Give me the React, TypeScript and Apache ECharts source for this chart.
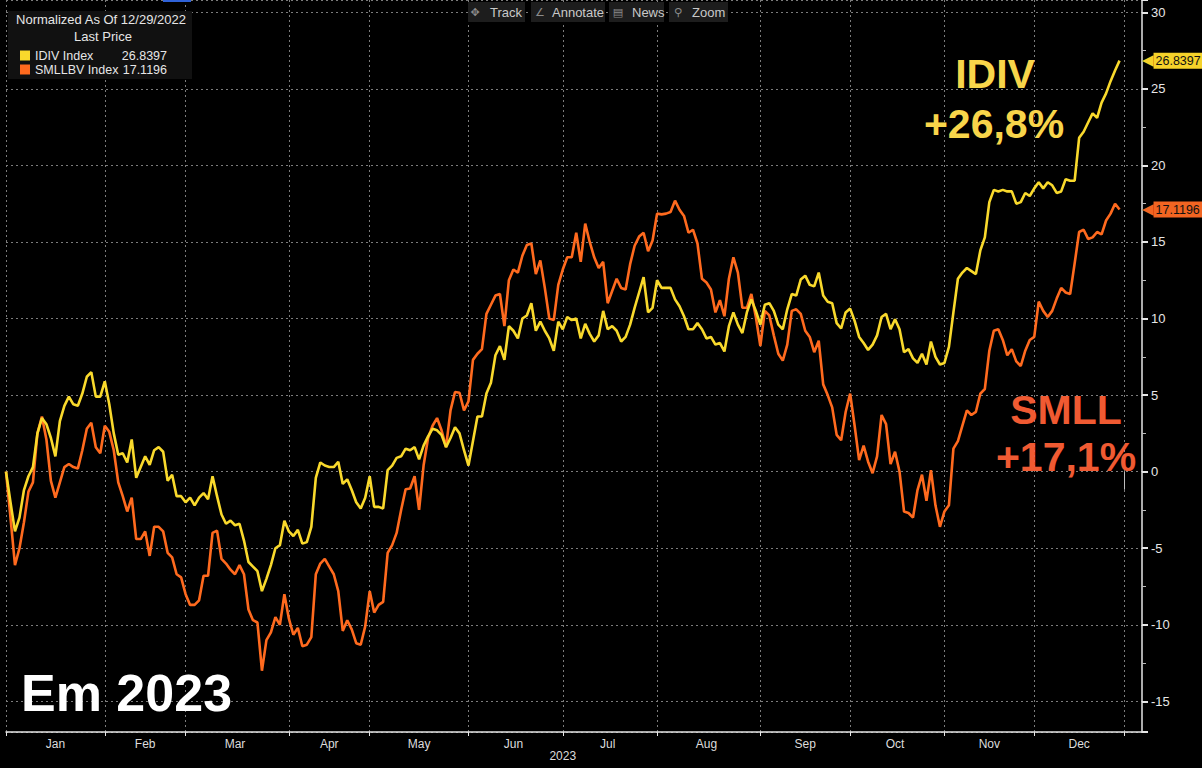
import React, { useEffect, useRef } from 'react';
import * as echarts from 'echarts';

// ---- data ----
const monthNames = ['Jan', 'Feb', 'Mar', 'Apr', 'May', 'Jun', 'Jul', 'Aug', 'Sep', 'Oct', 'Nov', 'Dec'];
// trading-day index where each month starts (last entry = end of December)
const monthStarts = [0, 22, 40, 63, 81, 103, 124, 145, 168, 188, 209, 229, 249];
const axisLastIndex = 253;
const yearLabel = '2023';

const seriesNames = ['IDIV Index', 'SMLLBV Index'];
const headerLines = ['Normalized As Of 12/29/2022', 'Last Price'];
const toolbarItems = ['Track', 'Annotate', 'News', 'Zoom'];
const toolbarIcons = ['\u2725', '\u2220', '\u25A4', '\u26B2'];
const idivNote = ['IDIV', '+26,8%'];
const smllNote = ['SMLL', '+17,1%'];
const cornerNote = 'Em 2023';

const idivValues = [
  0, -2.0, -3.9, -3.0, -1.2, -0.3, 0.3, 2.5, 3.5, 3.1,
  2.2, 1.0, 3.3, 4.3, 4.9, 4.4, 4.3, 5.1, 6.2, 6.5,
  4.9, 4.9, 5.9, 4.4, 2.5, 1.1, 1.2, 0.6, 2.1, -0.4,
  0.3, 1.0, 0.45, 1.4, 1.6, 1.3, -0.6, -0.2, -1.6, -1.6,
  -2.0, -1.7, -2.2, -1.7, -1.4, -1.8, -0.3, -1.6, -2.8, -3.4,
  -3.2, -3.5, -3.4, -4.5, -5.9, -6.2, -6.5, -7.8, -7.0, -6.1,
  -5.0, -4.8, -3.2, -3.9, -4.2, -3.8, -4.7, -4.6, -3.6, -0.4,
  0.6, 0.4, 0.3, 0.3, 0.65, -0.8, -0.5, -1.2, -2.0, -2.4,
  -1.7, -0.3, -2.3, -2.3, -2.4, 0.1, 0.4, 0.9, 1.0, 1.5,
  1.4, 1.6, 0.8, 1.7, 2.3, 2.8, 2.7, 2.4, 1.6, 2.2,
  2.9, 2.5, 1.4, 0.4, 2.0, 3.6, 3.6, 5.1, 5.8, 7.6,
  8.2, 7.3, 9.5, 9.2, 8.7, 10.0, 10.2, 11.0, 9.2, 9.8,
  9.2, 8.7, 7.9, 9.8, 9.3, 10.1, 9.9, 10.0, 8.7, 9.65,
  9.0, 8.5, 8.9, 10.5, 9.3, 9.5, 9.2, 8.5, 8.8, 9.6,
  10.7, 11.7, 12.7, 10.4, 10.7, 12.5, 12.0, 12.0, 12.0, 11.25,
  10.8, 10.15, 9.3, 9.3, 9.7, 9.3, 8.7, 8.8, 8.3, 8.4,
  7.85, 9.5, 10.4, 9.6, 9.05, 10.4, 11.25, 10.5, 9.6, 10.9,
  11.0, 10.5, 9.6, 9.3, 10.6, 11.6, 11.5, 12.55, 12.8, 12.2,
  12.1, 13.0, 11.5, 11.1, 11.0, 9.7, 9.35, 10.4, 10.65, 9.85,
  8.8, 8.4, 7.95, 8.3, 8.9, 10.1, 10.3, 9.3, 9.95, 9.3,
  7.8, 8.0, 7.4, 7.1, 7.7, 7.0, 8.5, 7.5, 7.0, 7.1,
  8.15, 10.4, 12.6, 13.0, 13.3, 13.1, 12.9, 14.45, 15.3, 17.6,
  18.4, 18.3, 18.4, 18.3, 18.3, 17.5, 17.6, 18.2, 18.0, 18.5,
  18.9, 18.5, 18.9, 18.7, 18.2, 18.3, 19.1, 19.0, 19.0, 21.8,
  22.2, 22.8, 23.4, 23.1, 24.1, 24.7, 25.5, 26.2, 26.8397,
];

const smllValues = [
  0, -3.0, -6.1, -5.0, -3.3, -1.3, -0.7, 2.5, 3.6, 2.1,
  -0.6, -1.7, -0.7, 0.3, 0.5, 0.3, 0.2, 1.4, 2.8, 3.2,
  1.6, 1.2, 3.0, 2.6, 1.4, -0.7, -1.6, -2.6, -1.7, -4.4,
  -4.4, -3.9, -5.5, -3.6, -3.6, -3.9, -5.3, -5.6, -6.7, -6.9,
  -8.0, -8.7, -8.7, -8.4, -6.8, -6.8, -4.0, -3.85, -5.7, -6.0,
  -6.4, -6.7, -6.1, -6.7, -9.0, -9.7, -9.85, -13.0, -11.0, -10.5,
  -9.5, -10.0, -8.0, -9.6, -10.65, -10.2, -11.4, -11.3, -10.8, -6.7,
  -6.0, -5.7, -6.2, -6.7, -7.8, -10.4, -9.7, -10.3, -11.2, -11.3,
  -10.1, -7.8, -9.2, -8.7, -8.5, -5.3, -4.8, -4.0, -2.5, -1.15,
  -1.1, -0.3, -2.5, 0.4, 2.2, 3.0, 3.5, 2.7, 1.6, 4.0,
  5.2, 5.15, 4.0, 4.6, 7.3, 7.7, 8.0, 10.3, 10.9, 11.5,
  11.6, 9.5, 12.5, 13.2, 13.0, 14.1, 14.8, 14.9, 12.9, 13.8,
  12.0, 10.0, 9.9, 12.2, 13.2, 14.0, 14.0, 15.6, 13.7, 16.2,
  15.0, 14.0, 13.3, 13.7, 11.0, 11.8, 12.6, 12.0, 11.9, 13.55,
  14.75, 15.35, 15.6, 14.4, 15.1, 16.85, 16.8, 16.85, 16.95, 17.7,
  17.1, 16.7, 15.6, 15.8, 14.9, 12.6, 12.35, 11.9, 10.4, 11.2,
  10.15, 12.6, 14.0, 13.0, 10.7, 10.7, 11.6, 10.1, 8.2, 10.5,
  10.2, 8.9, 7.7, 7.25, 8.3, 10.5, 10.6, 10.3, 9.2, 8.8,
  7.8, 8.55, 5.7, 5.0, 4.2, 2.4, 2.05, 3.9, 5.1, 3.0,
  0.75, 1.7, 0.65, -0.1, 1.0, 3.7, 3.1, 0.5, 1.3, 0.0,
  -2.6, -2.7, -3.0, -1.2, -0.2, -1.9, 0.1, -2.2, -3.6, -2.6,
  -2.2, 1.5, 2.0, 3.0, 4.0, 3.7, 3.9, 5.1, 5.4, 7.9,
  9.2, 9.3, 8.6, 7.6, 8.0, 7.2, 6.9, 7.9, 8.6, 8.8,
  11.1, 10.5, 10.1, 10.5, 11.3, 12.0, 11.7, 11.6, 13.6, 15.65,
  15.8, 15.2, 15.3, 15.65, 15.5, 16.4, 16.85, 17.5, 17.1196,
];

const IDIV_COLOR = '#F9D92C';
const SMLL_COLOR = '#FF6A1E';
const IDIV_TEXT = '#F8D54A';
const SMLL_TEXT = '#F05A32';
const GRID_COLOR = '#7c7c7c';
const AXIS_COLOR = '#e6e6e6';
const FONT = "'Liberation Sans', Arial, sans-serif";

function buildOption() {
  const categories = Array.from({ length: axisLastIndex + 1 }, (_, i) => String(i));
  const labelMap: Record<number, string> = {};
  for (let m = 0; m < monthNames.length; m++) {
    labelMap[Math.floor((monthStarts[m] + monthStarts[m + 1]) / 2)] = monthNames[m];
  }
  const yearIdx = monthStarts[6];
  const yearEnd = monthStarts[monthStarts.length - 1];
  const isBoundary = (i: number) => monthStarts.indexOf(i) >= 0;

  const idivLast = idivValues[idivValues.length - 1];
  const smllLast = smllValues[smllValues.length - 1];
  const lastOf: Record<string, string> = {
    [seriesNames[0]]: idivLast.toFixed(4),
    [seriesNames[1]]: smllLast.toFixed(4),
  };

  const tag = (value: number, color: string) => ({
    silent: true,
    symbol: ['none', 'none'],
    lineStyle: { color: 'rgba(0,0,0,0)', width: 0, type: 'solid' },
    emphasis: { disabled: true },
    data: [{ yAxis: value }],
    label: {
      show: true,
      position: 'end',
      distance: 0,
      formatter: '{a|\u25C0}{b|' + value.toFixed(4) + '}',
      rich: {
        a: { color, fontSize: 15, fontFamily: 'DejaVu Sans', padding: [0, 0, 1, 0] },
        b: {
          color: '#111',
          backgroundColor: color,
          fontSize: 12.5,
          fontFamily: FONT,
          padding: [2, 3, 1, 2],
        },
      },
    },
  });

  const graphics: any[] = [];
  graphics.push({ type: 'rect', z: 50, shape: { x: 163, y: 0, width: 28, height: 2 }, style: { fill: '#2f62d8' } });
  graphics.push({ type: 'rect', z: 50, shape: { x: 8, y: 11, width: 184, height: 68 }, style: { fill: '#111111' } });
  graphics.push({
    type: 'text', z: 51,
    style: { text: headerLines[0], x: 101, y: 19, fill: '#e6e6e6', fontSize: 13, fontFamily: FONT, align: 'center', verticalAlign: 'middle', textAlign: 'center', textVerticalAlign: 'middle' },
  });
  graphics.push({
    type: 'text', z: 51,
    style: { text: headerLines[1], x: 103, y: 36, fill: '#e6e6e6', fontSize: 13, fontFamily: FONT, align: 'center', verticalAlign: 'middle', textAlign: 'center', textVerticalAlign: 'middle' },
  });

  const btn = [
    { x: 468, w: 57, ix: 475, tx: 490 },
    { x: 531, w: 74, ix: 540, tx: 552 },
    { x: 609, w: 55, ix: 618, tx: 632 },
    { x: 669, w: 59, ix: 678, tx: 692 },
  ];
  btn.forEach((b, k) => {
    graphics.push({ type: 'rect', z: 50, shape: { x: b.x, y: 2, width: b.w, height: 20 }, style: { fill: '#1d1d1d' } });
    graphics.push({
      type: 'text', z: 51,
      style: { text: toolbarIcons[k], x: b.ix, y: 12, fill: '#8c8c8c', fontSize: 11, fontFamily: 'DejaVu Sans', align: 'center', verticalAlign: 'middle', textAlign: 'center', textVerticalAlign: 'middle' },
    });
    graphics.push({
      type: 'text', z: 51,
      style: { text: toolbarItems[k], x: b.tx, y: 12, fill: '#c9c9c9', fontSize: 13, fontFamily: FONT, align: 'left', verticalAlign: 'middle', textAlign: 'left', textVerticalAlign: 'middle' },
    });
  });

  const bigText = (text: string, x: number, y: number, color: string, size: number, align: string) => ({
    type: 'text', z: 60,
    style: {
      text, x, y, fill: color, fontSize: size, fontWeight: 'bold', fontFamily: FONT,
      align, verticalAlign: 'middle', textAlign: align, textVerticalAlign: 'middle',
    },
  });
  graphics.push(bigText(idivNote[0], 995, 74, IDIV_TEXT, 41, 'center'));
  graphics.push(bigText(idivNote[1], 994, 124, IDIV_TEXT, 41, 'center'));
  graphics.push(bigText(smllNote[0], 1066, 410, SMLL_TEXT, 41, 'center'));
  graphics.push(bigText(smllNote[1], 1066, 457, SMLL_TEXT, 41, 'center'));
  graphics.push(bigText(cornerNote, 21, 693, '#ffffff', 52, 'left'));

  return {
    animation: false,
    backgroundColor: '#000000',
    textStyle: { fontFamily: FONT },
    grid: { left: 6, right: 60, top: 0, bottom: 36, containLabel: false },
    legend: {
      show: true,
      left: 15,
      top: 44,
      orient: 'vertical',
      itemGap: 1,
      itemWidth: 10,
      itemHeight: 10,
      icon: 'rect',
      selectedMode: false,
      z: 60,
      data: seriesNames,
      formatter: (name: string) => '{n|' + name + '}{v|' + lastOf[name] + '}',
      textStyle: {
        color: '#e6e6e6',
        fontSize: 12.5,
        fontFamily: FONT,
        rich: {
          n: { width: 86, color: '#e6e6e6', fontSize: 12.5, fontFamily: FONT },
          v: { width: 46, align: 'right', color: '#e6e6e6', fontSize: 12.5, fontFamily: FONT },
        },
      },
    },
    xAxis: [
      {
        type: 'category',
        data: categories,
        boundaryGap: false,
        axisLine: { show: true, onZero: false, lineStyle: { color: AXIS_COLOR, width: 1.5 } },
        axisTick: { show: true, interval: (i: number) => isBoundary(i), length: 4, lineStyle: { color: AXIS_COLOR } },
        axisLabel: {
          show: true,
          interval: (i: number) => labelMap[i] !== undefined,
          formatter: (v: string) => labelMap[Number(v)] || '',
          color: '#dcdcdc',
          fontSize: 12,
          fontFamily: FONT,
          margin: 6,
        },
        splitLine: { show: true, interval: (i: number) => isBoundary(i), lineStyle: { color: GRID_COLOR, type: [2, 3], width: 1 } },
      },
      {
        type: 'category',
        data: categories,
        boundaryGap: false,
        position: 'bottom',
        offset: 14,
        axisLine: { show: false },
        axisTick: { show: true, interval: (i: number) => i === yearEnd, length: 18, lineStyle: { color: '#bdbdbd' } },
        axisLabel: {
          show: true,
          interval: (i: number) => i === yearIdx,
          formatter: () => yearLabel,
          color: '#dcdcdc',
          fontSize: 12,
          fontFamily: FONT,
          margin: 4,
        },
        splitLine: { show: false },
      },
    ],
    yAxis: {
      type: 'value',
      position: 'right',
      min: -17,
      max: 30.8,
      splitNumber: 10,
      axisLine: { show: true, lineStyle: { color: AXIS_COLOR, width: 1.5 } },
      axisTick: { show: true, length: 6, lineStyle: { color: AXIS_COLOR, width: 2 } },
      minorTick: { show: true, splitNumber: 2, length: 4, lineStyle: { color: '#bbbbbb' } },
      axisLabel: {
        show: true,
        showMinLabel: false,
        showMaxLabel: false,
        color: AXIS_COLOR,
        fontSize: 13,
        fontFamily: FONT,
        margin: 9,
        formatter: (v: number) => (Math.abs(v % 5) < 1e-9 ? String(v) : ''),
      },
      splitLine: { show: true, lineStyle: { color: GRID_COLOR, type: [2, 3], width: 1 } },
    },
    series: [
      {
        name: seriesNames[0],
        type: 'line',
        data: idivValues,
        xAxisIndex: 0,
        yAxisIndex: 0,
        showSymbol: false,
        symbol: 'none',
        z: 4,
        lineStyle: { color: IDIV_COLOR, width: 2.6 },
        itemStyle: { color: IDIV_COLOR },
        markLine: tag(idivLast, '#F5D22A'),
      },
      {
        name: seriesNames[1],
        type: 'line',
        data: smllValues,
        xAxisIndex: 0,
        yAxisIndex: 0,
        showSymbol: false,
        symbol: 'none',
        z: 3,
        lineStyle: { color: SMLL_COLOR, width: 2.6 },
        itemStyle: { color: SMLL_COLOR },
        markLine: tag(smllLast, '#F26522'),
      },
    ],
    graphic: graphics,
  };
}

export default function App() {
  const ref = useRef<HTMLDivElement>(null);
  useEffect(() => {
    if (!ref.current) return;
    const chart = echarts.init(ref.current, undefined, { renderer: 'svg' });
    chart.setOption(buildOption() as any);
    return () => chart.dispose();
  }, []);
  return (
    <div
      ref={ref}
      style={{ position: 'absolute', left: 0, top: 0, width: 1202, height: 768, background: '#000' }}
    />
  );
}
